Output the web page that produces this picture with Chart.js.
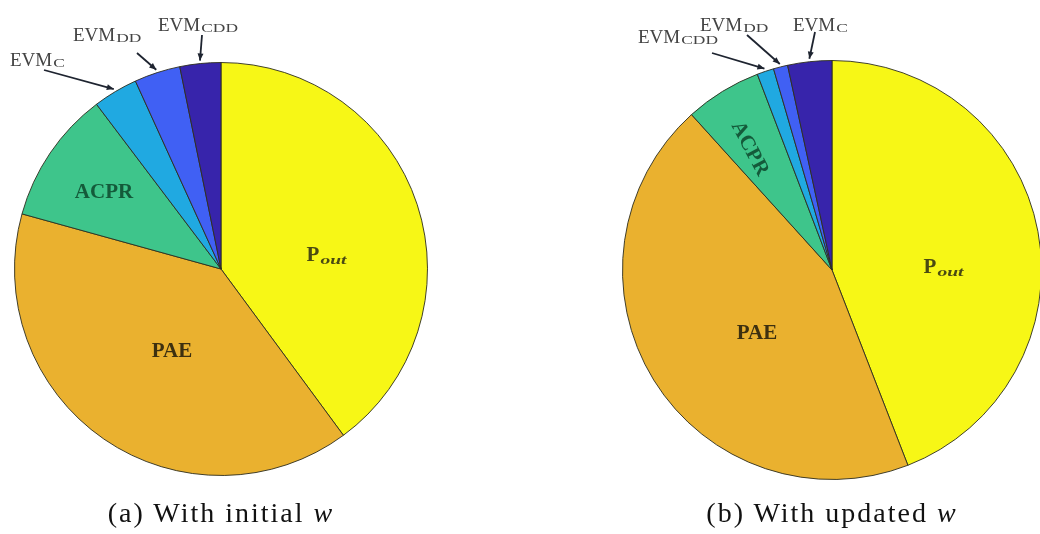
<!DOCTYPE html>
<html>
<head>
<meta charset="utf-8">
<script src="https://cdn.jsdelivr.net/npm/chart.js@4"></script>
<style>
  html, body { margin: 0; padding: 0; background: #fff; }
  body { width: 1040px; height: 534px; position: relative; overflow: hidden; }
  canvas { position: absolute; top: 0; }
  .caption {
    position: absolute; top: 496px; width: 340px; text-align: center;
    font-family: "Liberation Serif", "DejaVu Serif", serif; font-size: 28px;
    letter-spacing: 2px; color: #111; line-height: 34px;
  }
</style>
</head>
<body>
<canvas id="pieA" width="520" height="534" style="left:0px"></canvas>
<canvas id="pieB" width="560" height="534" style="left:500px"></canvas>
<div class="caption" style="left:51px">(a) With initial <i>w</i></div>
<div class="caption" style="left:662px">(b) With updated <i>w</i></div>
<script>
// shares of each objective term (percent), clockwise from 12 o'clock
const colors = ["#f7f716", "#eab12f", "#3ec58b", "#20a9e1", "#4060f4", "#3724ab"];

const labelsInitial = ["P_out", "PAE", "ACPR", "EVM_C", "EVM_DD", "EVM_CDD"];
const valuesInitial = [39.9, 39.4, 10.4, 3.5, 3.6, 3.2];

const labelsUpdated = ["P_out", "PAE", "ACPR", "EVM_CDD", "EVM_DD", "EVM_C"];
const valuesUpdated = [44.1, 44.2, 5.9, 1.3, 1.1, 3.4];

const serif = '"Liberation Serif", "DejaVu Serif", serif';

// draws a label like "EVM_DD"; the subscript is small and stretched wide
function drawSubText(ctx, text, x, y, size, opts = {}) {
  const [base, sub] = text.split("_");
  const subSize = Math.round(size * (opts.subScale || 0.62));
  const stretch = opts.stretch || 1.5;
  const weight = opts.bold ? "bold " : "";
  const baseFont = `${weight}${size}px ${serif}`;
  const subFont = `${weight}${opts.italicSub ? "italic " : ""}${subSize}px ${serif}`;
  ctx.font = baseFont;
  const w1 = ctx.measureText(base).width;
  ctx.font = subFont;
  const w2 = sub ? ctx.measureText(sub).width * stretch : 0;
  const left = opts.center ? x - (w1 + w2) / 2 : x;
  ctx.font = baseFont;
  ctx.fillText(base, left, y);
  if (sub) {
    ctx.save();
    ctx.font = subFont;
    ctx.translate(left + w1 + 1, y + (opts.subDrop || 2));
    ctx.scale(stretch, 1);
    ctx.fillText(sub, 0, 0);
    ctx.restore();
  }
}

const pieLabels = {
  id: "pieLabels",
  afterDatasetsDraw(chart, args, opts) {
    const ctx = chart.ctx;
    const arcs = chart.getDatasetMeta(0).data;
    const labels = chart.data.labels;
    ctx.save();
    ctx.textBaseline = "alphabetic";

    // labels inside the slices
    (opts.inside || []).forEach(item => {
      ctx.save();
      ctx.fillStyle = item.color;
      ctx.translate(item.x, item.y);
      ctx.rotate((item.rot || 0) * Math.PI / 180);
      drawSubText(ctx, labels[item.index], 0, 7, 21, { bold: true, center: true, italicSub: true, subScale: 0.6, subDrop: 3 });
      ctx.restore();
    });

    // outside labels with arrows pointing at the slice edge
    (opts.outside || []).forEach(item => {
      const arc = arcs[item.index];
      const mid = (arc.startAngle + arc.endAngle) / 2;
      const r = arc.outerRadius + 3;
      const tx = arc.x + Math.cos(mid) * r;
      const ty = arc.y + Math.sin(mid) * r;
      ctx.strokeStyle = "#1e2430";
      ctx.fillStyle = "#1e2430";
      ctx.lineWidth = 1.8;
      ctx.beginPath();
      ctx.moveTo(item.ax, item.ay);
      ctx.lineTo(tx, ty);
      ctx.stroke();
      const ang = Math.atan2(ty - item.ay, tx - item.ax);
      const hl = 7, hw = 3;
      ctx.beginPath();
      ctx.moveTo(tx, ty);
      ctx.lineTo(tx - hl * Math.cos(ang) + hw * Math.sin(ang), ty - hl * Math.sin(ang) - hw * Math.cos(ang));
      ctx.lineTo(tx - hl * Math.cos(ang) - hw * Math.sin(ang), ty - hl * Math.sin(ang) + hw * Math.cos(ang));
      ctx.closePath();
      ctx.fill();
      ctx.fillStyle = "#444444";
      drawSubText(ctx, labels[item.index], item.x, item.y, 19, { subScale: 0.63, stretch: 1.45, subDrop: 1 });
    });
    ctx.restore();
  },
};

function makePie(id, labels, values, padding, labelOpts) {
  return new Chart(id, {
    type: "pie",
    data: {
      labels,
      datasets: [
        {
          data: values,
          backgroundColor: colors,
          borderColor: "rgba(45, 45, 30, 0.9)",
          borderWidth: 1,
        },
      ],
    },
    options: {
      responsive: false,
      animation: false,
      layout: { padding },
      plugins: {
        legend: { display: false },
        tooltip: { enabled: false },
        pieLabels: labelOpts,
      },
    },
    plugins: [pieLabels],
  });
}

// (a) With initial w
makePie("pieA", labelsInitial, valuesInitial,
  { left: 14, top: 62, right: 92, bottom: 58 },
  {
    inside: [
      { index: 0, x: 326, y: 254, color: "#4a4a12" },
      { index: 1, x: 172, y: 350, color: "#3d3010" },
      { index: 2, x: 104, y: 191, color: "#145a3a" },
    ],
    outside: [
      { index: 3, x: 10, y: 66, ax: 44, ay: 70 },
      { index: 4, x: 73, y: 41, ax: 137, ay: 53 },
      { index: 5, x: 158, y: 31, ax: 202, ay: 35 },
    ],
  });

// (b) With updated w (canvas starts at x = 500)
makePie("pieB", labelsUpdated, valuesUpdated,
  { left: 122, top: 60, right: 18, bottom: 54 },
  {
    inside: [
      { index: 0, x: 443, y: 266, color: "#4a4a12" },
      { index: 1, x: 257, y: 332, color: "#3d3010" },
      { index: 2, x: 251, y: 148, color: "#145a3a", rot: 62 },
    ],
    outside: [
      { index: 3, x: 138, y: 43, ax: 212, ay: 53 },
      { index: 4, x: 200, y: 31, ax: 247, ay: 35 },
      { index: 5, x: 293, y: 31, ax: 315, ay: 32 },
    ],
  });
</script>
</body>
</html>
